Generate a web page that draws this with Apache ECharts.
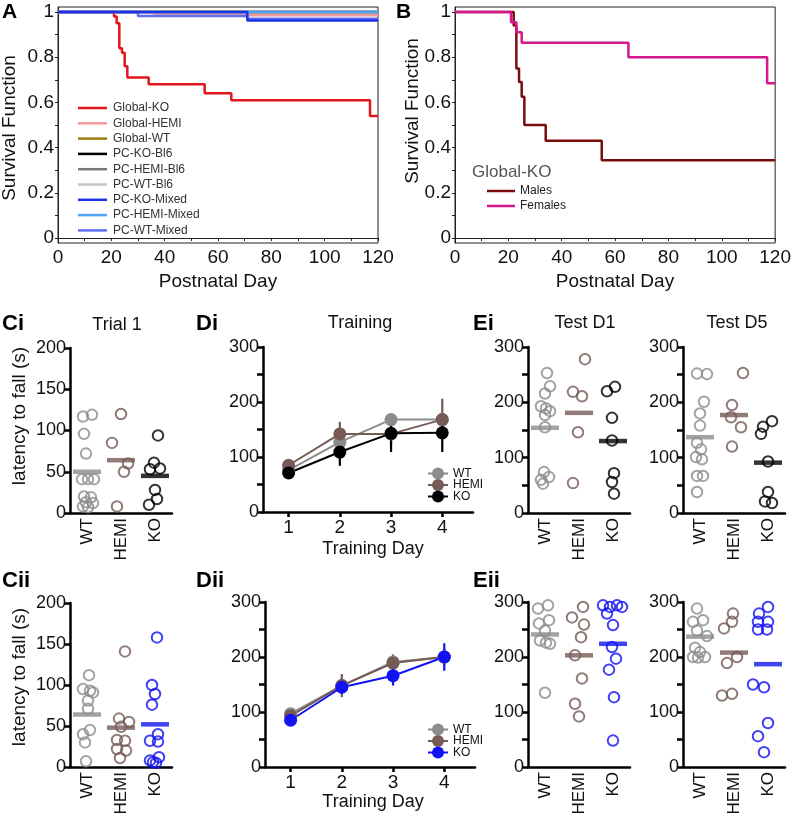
<!DOCTYPE html>
<html><head><meta charset="utf-8">
<script src="https://cdn.jsdelivr.net/npm/echarts@6/dist/echarts.min.js"></script>
<style>html,body{margin:0;padding:0;background:#fff}#c{width:794px;height:820px}</style>
</head><body><div id="c"></div>
<script>
const FONT = '"Liberation Sans", Arial, Helvetica, sans-serif';

// ---------- Panel A: survival curves ----------
const aNames = ['Global-KO','Global-HEMI','Global-WT','PC-KO-Bl6','PC-HEMI-Bl6','PC-WT-Bl6','PC-KO-Mixed','PC-HEMI-Mixed','PC-WT-Mixed'];
const globalKODays = [0,21,22,23,24,25,26,34,55,65,117,120];
const globalKOSurv = [1,0.98,0.95,0.84,0.82,0.76,0.71,0.68,0.64,0.61,0.54,0.54];
const globalHEMIDays = [0,36,120];
const globalHEMISurv = [1,0.985,0.985];
const globalWTDays = [0,120];
const globalWTSurv = [1,1];
const pcKOBl6Days = [0,120];
const pcKOBl6Surv = [1,1];
const pcHEMIBl6Days = [0,120];
const pcHEMIBl6Surv = [1,1];
const pcWTBl6Days = [0,120];
const pcWTBl6Surv = [1,1];
const pcKOMixedDays = [0,71,120];
const pcKOMixedSurv = [1,0.962,0.962];
const pcHEMIMixedDays = [0,120];
const pcHEMIMixedSurv = [1,1];
const pcWTMixedDays = [0,30,71,120];
const pcWTMixedSurv = [1,0.982,0.97,0.97];

// ---------- Panel B ----------
const maleDays = [0,22,23,24,25,26,34,55,120];
const maleSurv = [1,0.94,0.75,0.69,0.625,0.5,0.43,0.344,0.344];
const femaleDays = [0,21,23,25,65,117,120];
const femaleSurv = [1,0.955,0.91,0.864,0.8,0.685,0.685];

// ---------- Panel C / E categories ----------
const groups = ['WT','HEMI','KO'];

const ciWT = [119,117,96,72,41,41,41,20,19,13,12,8,7];
const ciWTJit = [5,-4,-3,-1,-5,1,7,-3,4,-1,6,-4,1];
const ciHEMI = [120,85,60,50,8];
const ciHEMIJit = [0,-9,7,3,-4];
const ciKO = [94,61,53,54,28,17,10];
const ciKOJit = [3,-1,-5,5,0,2,-6];
const ciMeans = [50,64,45];

const ciiWT = [112,95,93,91,81,71,45,40,30,7];
const ciiWTJit = [2,-4,3,6,1,1,3,-4,-2,-1];
const ciiHEMI = [141,59,55,49,33,32,22,20,11];
const ciiHEMIJit = [4,-2,8,0,-4,4,-4,5,-1];
const ciiKO = [158,100,89,76,40,32,31,12,8,6,5];
const ciiKOJit = [2,-3,0,-3,3,-5,3,4,-5,-2,1];
const ciiMeans = [64,48,52];

const eiD1WT = [253,229,216,193,189,184,177,155,74,65,60,53];
const eiD1WTJit = [2,5,0,-4,1,5,0,0,-1,4,-4,-2];
const eiD1HEMI = [278,219,211,146,54];
const eiD1HEMIJit = [6,-6,3,-1,-6];
const eiD1KO = [228,220,172,131,72,56,35];
const eiD1KOJit = [2,-6,-1,-1,1,-1,1];
const eiD1Means = [154,181,130];

const eiD5WT = [252,251,201,180,158,127,115,101,97,67,67,38];
const eiD5WTJit = [-3,7,4,0,0,-3,1,-4,2,-3,3,-3];
const eiD5HEMI = [253,195,173,155,120];
const eiD5HEMIJit = [9,-2,-3,7,-2];
const eiD5KO = [166,156,143,93,38,21,18];
const eiD5KOJit = [4,-5,-7,0,0,-3,4];
const eiD5Means = [137,177,91];

const eiiD1WT = [294,288,267,261,248,230,226,224,135];
const eiiD1WTJit = [3,-7,4,-6,0,-5,1,5,0];
const eiiD1HEMI = [291,272,259,236,203,161,115,92];
const eiiD1HEMIJit = [4,-7,5,2,-4,3,-4,0];
const eiiD1KO = [294,291,294,291,279,258,218,197,177,127,48];
const eiiD1KOJit = [-10,-3,4,9,-6,0,-1,3,-4,1,0];
const eiiD1Means = [241,203,224];

const eiiD5WT = [288,264,267,248,238,217,209,200,200,199];
const eiiD5WTJit = [-3,-7,3,-3,7,-5,0,5,-7,-2];
const eiiD5HEMI = [279,264,252,200,189,130,133];
const eiiD5HEMIJit = [-1,-2,-10,3,-7,-12,-2];
const eiiD5KO = [279,291,264,264,250,250,150,145,80,56,27];
const eiiD5KOJit = [-9,0,-10,0,-10,-1,-15,-4,0,-10,-4];
const eiiD5Means = [237,208,187];

// ---------- Panel D: training ----------
const trainDays = [1,2,3,4];
const diWT = [76,127,168,168];
const diWTErr = [6,10,10,10];
const diHEMI = [85,142,142,168];
const diHEMIErr = [9,22,20,38];
const diKO = [71,109,143,144];
const diKOErr = [8,25,34,35];
const diiWT = [97,148,191,200];
const diiWTErr = [8,15,14,12];
const diiHEMI = [93,148,189,200];
const diiHEMIErr = [8,21,15,15];
const diiKO = [85,145,166,200];
const diiKOErr = [10,12,18,25];

// ---------- styling ----------
const C_WT = '#8c8c8c', C_HEMI = '#765a56', C_KO = '#000000', C_KO2 = '#1212f2';
const aColors = {'Global-KO':'#e3141b','Global-HEMI':'#f29a9a','Global-WT':'#a07a16','PC-KO-Bl6':'#000000',
  'PC-HEMI-Bl6':'#7a7a7a','PC-WT-Bl6':'#c4c4c4','PC-KO-Mixed':'#1c33e8','PC-HEMI-Mixed':'#4fa3f2','PC-WT-Mixed':'#5f6ef2'};
const aData = {'Global-KO':[globalKODays,globalKOSurv],'Global-HEMI':[globalHEMIDays,globalHEMISurv],
  'Global-WT':[globalWTDays,globalWTSurv],'PC-KO-Bl6':[pcKOBl6Days,pcKOBl6Surv],'PC-HEMI-Bl6':[pcHEMIBl6Days,pcHEMIBl6Surv],
  'PC-WT-Bl6':[pcWTBl6Days,pcWTBl6Surv],'PC-KO-Mixed':[pcKOMixedDays,pcKOMixedSurv],
  'PC-HEMI-Mixed':[pcHEMIMixedDays,pcHEMIMixedSurv],'PC-WT-Mixed':[pcWTMixedDays,pcWTMixedSurv]};
const aDrawOrder = ['Global-WT','PC-KO-Bl6','PC-HEMI-Bl6','PC-WT-Bl6','Global-KO','Global-HEMI','PC-HEMI-Mixed','PC-WT-Mixed','PC-KO-Mixed'];

const zip = (xs, ys) => xs.map((x, i) => [x, ys[i]]);

const grids = [
  {left:58, top:7, width:320, height:236, show:true, borderColor:'#222', borderWidth:1},   // A
  {left:455, top:7, width:321, height:236, show:true, borderColor:'#222', borderWidth:1},  // B
  {left:70, top:348, width:102, height:165},   // Ci
  {left:263, top:347, width:210, height:165},  // Di
  {left:528, top:347, width:102, height:166},  // Ei D1
  {left:683, top:347, width:102, height:166},  // Ei D5
  {left:70, top:603, width:102, height:164},   // Cii
  {left:265, top:602, width:210, height:165},  // Dii
  {left:528, top:602, width:102, height:165},  // Eii D1
  {left:683, top:602, width:102, height:165}   // Eii D5
];

const thickLine = {lineStyle:{color:'#000', width:2.5}};
const thickTick = {show:true, inside:false, length:6, lineStyle:{color:'#000', width:2.5}};
const lab = (size, extra) => Object.assign({color:'#111', fontSize:size, fontFamily:FONT}, extra || {});

const xAxes = [], yAxes = [];
// A, B
for (let g = 0; g < 2; g++) {
  xAxes.push({gridIndex:g, type:'value', min:0, max:120,
    axisLine:{lineStyle:{color:'#222', width:1}},
    axisTick:{show:true, length:3, customValues:[0,10,20,30,40,50,60,70,80,90,100,110,120], lineStyle:{color:'#222'}},
    axisLabel:lab(19, {margin:5, customValues:[0,20,40,60,80,100,120]}),
    splitLine:{show:false}});
  yAxes.push({gridIndex:g, type:'value', min:-0.022, max:1.022,
    axisLine:{show:true, lineStyle:{color:'#222', width:1}},
    axisTick:{show:true, length:3, customValues:[0,0.1,0.2,0.3,0.4,0.5,0.6,0.7,0.8,0.9,1], lineStyle:{color:'#222'}},
    axisLabel:lab(19, {margin:4, customValues:[0,0.2,0.4,0.6,0.8,1],
      formatter:v => (v === 0 ? '0' : v === 1 ? '1' : v.toFixed(1))}),
    splitLine:{show:false}});
}
function catAxes(g, ymax) {
  xAxes.push({gridIndex:g, type:'category', data:groups, boundaryGap:true,
    axisLine:thickLine, axisTick:{show:false},
    axisLabel:lab(17, {rotate:90, margin:5, interval:0}), splitLine:{show:false}});
  if (ymax === 200) {
    yAxes.push({gridIndex:g, type:'value', min:0, max:200, interval:50,
      axisLine:Object.assign({show:true}, thickLine), axisTick:thickTick,
      axisLabel:lab(18, {margin:4}), splitLine:{show:false}});
  } else {
    yAxes.push({gridIndex:g, type:'value', min:0, max:300,
      axisLine:Object.assign({show:true}, thickLine),
      axisTick:Object.assign({customValues:[0,50,100,150,200,250,300]}, thickTick),
      axisLabel:lab(18, {margin:4, customValues:[0,100,200,300]}), splitLine:{show:false}});
  }
}
function dayAxes(g) {
  xAxes.push({gridIndex:g, type:'value', min:0.5, max:4.6,
    axisLine:thickLine, axisTick:Object.assign({customValues:trainDays}, thickTick, {length:5}),
    axisLabel:lab(19, {margin:6, customValues:trainDays}), splitLine:{show:false}});
  yAxes.push({gridIndex:g, type:'value', min:0, max:300,
    axisLine:Object.assign({show:true}, thickLine),
    axisTick:Object.assign({customValues:[0,50,100,150,200,250,300]}, thickTick),
    axisLabel:lab(18, {margin:4, customValues:[0,100,200,300]}), splitLine:{show:false}});
}
catAxes(2, 200); dayAxes(3); catAxes(4, 300); catAxes(5, 300);
catAxes(6, 200); dayAxes(7); catAxes(8, 300); catAxes(9, 300);

const series = [];
// A lines
aDrawOrder.forEach(n => {
  series.push({name:n, type:'line', xAxisIndex:0, yAxisIndex:0, step:'end', symbol:'none',
    data:zip(aData[n][0], aData[n][1]), color:aColors[n],
    lineStyle:{color:aColors[n], width:2.5}});
});
// B lines
series.push({name:'Males', type:'line', xAxisIndex:1, yAxisIndex:1, step:'end', symbol:'none',
  data:zip(maleDays, maleSurv), color:'#7a0c0c', lineStyle:{color:'#7a0c0c', width:2.5}});
series.push({name:'Females', type:'line', xAxisIndex:1, yAxisIndex:1, step:'end', symbol:'none',
  data:zip(femaleDays, femaleSurv), color:'#d4178c', lineStyle:{color:'#d4178c', width:2.5}});

// scatter panels
function dots(ax, ci, vals, jit, color) {
  series.push({type:'scatter', xAxisIndex:ax, yAxisIndex:ax, symbol:'circle', symbolSize:10.5,
    itemStyle:{color:'rgba(255,255,255,0)', borderColor:color, borderWidth:2},
    data:vals.map((v, i) => ({value:[ci, v], symbolOffset:[jit[i], 0]})), silent:true, z:3});
}
function means(ax, vals, colors) {
  series.push({type:'scatter', xAxisIndex:ax, yAxisIndex:ax, symbol:'rect', symbolSize:[28,4.5],
    data:vals.map((v, i) => ({value:[i, v], itemStyle:{color:colors[i]}})), silent:true, z:4});
}
function scatterPanel(ax, wt, wtJ, he, heJ, ko, koJ, m, koColor) {
  dots(ax, 0, wt, wtJ, C_WT); dots(ax, 1, he, heJ, C_HEMI); dots(ax, 2, ko, koJ, koColor);
  means(ax, m, [C_WT, C_HEMI, koColor]);
}
scatterPanel(2, ciWT, ciWTJit, ciHEMI, ciHEMIJit, ciKO, ciKOJit, ciMeans, C_KO);
scatterPanel(4, eiD1WT, eiD1WTJit, eiD1HEMI, eiD1HEMIJit, eiD1KO, eiD1KOJit, eiD1Means, C_KO);
scatterPanel(5, eiD5WT, eiD5WTJit, eiD5HEMI, eiD5HEMIJit, eiD5KO, eiD5KOJit, eiD5Means, C_KO);
scatterPanel(6, ciiWT, ciiWTJit, ciiHEMI, ciiHEMIJit, ciiKO, ciiKOJit, ciiMeans, C_KO2);
scatterPanel(8, eiiD1WT, eiiD1WTJit, eiiD1HEMI, eiiD1HEMIJit, eiiD1KO, eiiD1KOJit, eiiD1Means, C_KO2);
scatterPanel(9, eiiD5WT, eiiD5WTJit, eiiD5HEMI, eiiD5HEMIJit, eiiD5KO, eiiD5KOJit, eiiD5Means, C_KO2);

// training panels
function errBars(ax, mean, err, color) {
  series.push({type:'custom', xAxisIndex:ax, yAxisIndex:ax, silent:true, z:2,
    data:trainDays.map((d, i) => [d, mean[i], err[i]]),
    renderItem:(params, api) => {
      const x = api.value(0), m = api.value(1), e = api.value(2);
      const p1 = api.coord([x, m - e]), p2 = api.coord([x, m + e]);
      return {type:'line', shape:{x1:p1[0], y1:p1[1], x2:p2[0], y2:p2[1]}, style:{stroke:color, lineWidth:2.2}};
    }});
}
function trainLine(ax, name, mean, color) {
  series.push({name:name, type:'line', xAxisIndex:ax, yAxisIndex:ax, symbol:'circle', symbolSize:13,
    data:zip(trainDays, mean), color:color, itemStyle:{color:color}, lineStyle:{color:color, width:2}, z:3});
}
errBars(3, diWT, diWTErr, C_WT); errBars(3, diHEMI, diHEMIErr, C_HEMI); errBars(3, diKO, diKOErr, C_KO);
trainLine(3, 'WT', diWT, C_WT); trainLine(3, 'HEMI', diHEMI, C_HEMI); trainLine(3, 'KO', diKO, C_KO);
errBars(7, diiWT, diiWTErr, C_WT); errBars(7, diiHEMI, diiHEMIErr, C_HEMI); errBars(7, diiKO, diiKOErr, C_KO2);
trainLine(7, 'WT ', diiWT, C_WT); trainLine(7, 'HEMI ', diiHEMI, C_HEMI); trainLine(7, 'KO ', diiKO, C_KO2);

const legends = [
  {left:73, top:96, orient:'vertical', icon:'rect', itemWidth:29, itemHeight:2.5, itemGap:1.3, selectedMode:false,
    textStyle:{fontSize:12, color:'#333', fontFamily:FONT, lineHeight:14, padding:[0,0,0,1]}, data:aNames},
  {left:482, top:179, orient:'vertical', icon:'rect', itemWidth:28, itemHeight:2.5, itemGap:1, selectedMode:false,
    textStyle:{fontSize:12, color:'#222', fontFamily:FONT, lineHeight:14}, data:['Males','Females']},
  {left:422, top:462, orient:'vertical', itemWidth:20, itemHeight:15, itemGap:-1.5, selectedMode:false,
    textStyle:{fontSize:12, color:'#111', fontFamily:FONT, lineHeight:13}, data:['WT','HEMI','KO']},
  {left:422, top:718, orient:'vertical', itemWidth:20, itemHeight:15, itemGap:-1.5, selectedMode:false,
    textStyle:{fontSize:12, color:'#111', fontFamily:FONT, lineHeight:13}, data:['WT ','HEMI ','KO '],
    formatter:n => n.trim()}
];

function txt(text, x, y, size, opts) {
  opts = opts || {};
  return {type:'text', x:x, y:y, rotation:opts.rot || 0, silent:true,
    style:{text:text, fill:opts.color || '#111', align:opts.align || 'center', verticalAlign:'middle',
      font:(opts.bold ? 'bold ' : '') + size + 'px ' + FONT}};
}
const R = Math.PI / 2;
const graphics = [
  txt('A', 2, 12, 21, {bold:true, align:'left', color:'#000'}),
  txt('B', 396, 12, 21, {bold:true, align:'left', color:'#000'}),
  txt('Survival Function', 10, 128, 19, {rot:R}),
  txt('Survival Function', 413, 111, 19, {rot:R}),
  txt('Postnatal Day', 218, 282, 19),
  txt('Postnatal Day', 615, 282, 19),
  txt('Global-KO', 472, 172, 17, {align:'left', color:'#555'}),
  txt('Ci', 2, 324, 22, {bold:true, align:'left', color:'#000'}),
  txt('Di', 196, 324, 22, {bold:true, align:'left', color:'#000'}),
  txt('Ei', 473, 324, 22, {bold:true, align:'left', color:'#000'}),
  txt('Cii', 2, 581, 22, {bold:true, align:'left', color:'#000'}),
  txt('Dii', 196, 581, 22, {bold:true, align:'left', color:'#000'}),
  txt('Eii', 473, 581, 22, {bold:true, align:'left', color:'#000'}),
  txt('Trial 1', 117, 325, 18),
  txt('Training', 360, 323, 18),
  txt('Test D1', 585, 323, 18),
  txt('Test D5', 737, 323, 18),
  txt('latency to fall (s)', 20, 416, 19, {rot:R}),
  txt('latency to fall (s)', 20, 677, 19, {rot:R}),
  txt('Training Day', 373, 549, 18),
  txt('Training Day', 373, 802, 18)
];

const chart = echarts.init(document.getElementById('c'));
chart.setOption({
  animation:false,
  backgroundColor:'#fff',
  textStyle:{fontFamily:FONT},
  grid:grids, xAxis:xAxes, yAxis:yAxes, series:series, legend:legends, graphic:graphics
});
</script></body></html>
